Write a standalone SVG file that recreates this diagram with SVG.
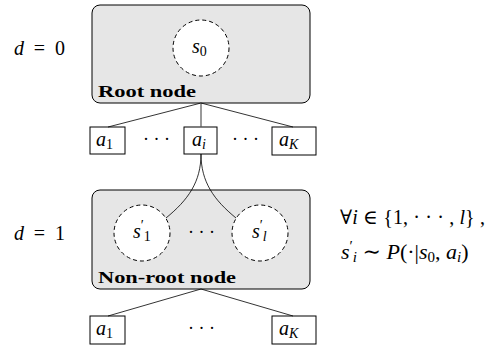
<svg xmlns="http://www.w3.org/2000/svg" width="493" height="348" viewBox="0 0 493 348">
<style>
.box{fill:#e6e6e6;stroke:#000;stroke-width:1}
.st{fill:#fff;stroke:#000;stroke-width:1;stroke-dasharray:4,3}
.act{fill:#fff;stroke:#000;stroke-width:1}
.ln{fill:none;stroke:#000;stroke-width:0.8}
text{font-family:"Liberation Serif","DejaVu Serif",serif}
.m{font-style:italic;font-size:20px}
.r{font-style:normal;font-size:20px}
.sub{font-size:14px;font-style:normal}
.subi{font-size:14px;font-style:italic}
.pr{font-size:14px;font-style:normal}
.lbl{font-weight:bold;font-size:16px}
.dots{font-size:18px;font-style:normal}
.f2{font-size:22px}
.f2 .r{font-size:22px}
.f2 .sub,.f2 .subi,.f2 .pr{font-size:15px}
</style>
<g id="d0"><text class="m" x="14" y="55" textLength="51" lengthAdjust="spacing">d<tspan class="r"> = 0</tspan></text></g>
<g id="d1"><text class="m" x="14" y="240" textLength="51" lengthAdjust="spacing">d<tspan class="r"> = 1</tspan></text></g>
<g id="root">
<rect class="box" x="92" y="5" width="218" height="98" rx="8"/>
<text class="lbl" x="98" y="97" textLength="98" lengthAdjust="spacingAndGlyphs">Root node</text>
</g>
<g id="s0">
<circle class="st" cx="201" cy="48" r="28"/>
<text class="m" x="192" y="53">s<tspan class="sub" dy="3">0</tspan></text>
</g>
<g id="a1_top"><rect class="act" x="90" y="127" width="35" height="27"/><text class="m" x="96" y="146">a<tspan class="sub" dy="3">1</tspan></text></g>
<g id="dots_top1"><text class="dots" x="143" y="145">· · ·</text></g>
<g id="ai_top"><rect class="act" x="184" y="127" width="33" height="27"/><text class="m" x="192" y="146">a<tspan class="subi" dy="3">i</tspan></text></g>
<g id="dots_top2"><text class="dots" x="232" y="145">· · ·</text></g>
<g id="aK_top"><rect class="act" x="272" y="127" width="44" height="28"/><text class="m" x="279" y="146">a<tspan class="subi" dy="3">K</tspan></text></g>
<g id="nonroot">
<rect class="box" x="92" y="190" width="218" height="99" rx="8"/>
<text class="lbl" x="98" y="283" textLength="138" lengthAdjust="spacingAndGlyphs">Non-root node</text>
<text class="dots" x="188" y="238">· · ·</text>
</g>
<g id="s1">
<circle class="st" cx="142" cy="233" r="28"/>
<text class="m" x="133" y="238">s<tspan class="pr" dy="-8">′</tspan><tspan class="sub" dy="11">1</tspan></text>
</g>
<g id="sl">
<circle class="st" cx="260" cy="233" r="28"/>
<text class="m" x="252" y="238">s<tspan class="pr" dy="-8">′</tspan><tspan class="subi" dy="11">l</tspan></text>
</g>
<g id="a1_bot"><rect class="act" x="90" y="316" width="35" height="28"/><text class="m" x="96" y="335">a<tspan class="sub" dy="3">1</tspan></text></g>
<g id="dots_bot"><text class="dots" x="188" y="334">· · ·</text></g>
<g id="aK_bot"><rect class="act" x="272" y="316" width="44" height="28"/><text class="m" x="279" y="335">a<tspan class="subi" dy="3">K</tspan></text></g>
<g id="formula">
<text class="r" x="340" y="224" textLength="145" lengthAdjust="spacing">∀<tspan class="m">i</tspan> ∈ {1, · · · , <tspan class="m">l</tspan>} ,</text>
<text class="m f2" x="341" y="259">s<tspan class="pr" dy="-8">′</tspan><tspan class="subi" dy="11">i</tspan><tspan class="r" dy="-3"> ∼ </tspan>P<tspan class="r">(·|</tspan>s<tspan class="sub" dy="3">0</tspan><tspan class="r" dy="-3">, </tspan>a<tspan class="subi" dy="3">i</tspan><tspan class="r" dy="-3">)</tspan></text>
</g>
<g id="connectors">
<line class="ln" x1="201" y1="103" x2="108" y2="127"/>
<line class="ln" x1="201" y1="103" x2="201" y2="127" style="stroke:#555;stroke-width:1.2"/>
<line class="ln" x1="201" y1="103" x2="293" y2="127"/>
<path class="ln" d="M201,154 C201,182 188,200 166,218"/>
<path class="ln" d="M201,154 C201,182 214,200 236,218"/>
<line class="ln" x1="201" y1="289" x2="108" y2="316"/>
<line class="ln" x1="201" y1="289" x2="293" y2="316"/>
</g>
</svg>
